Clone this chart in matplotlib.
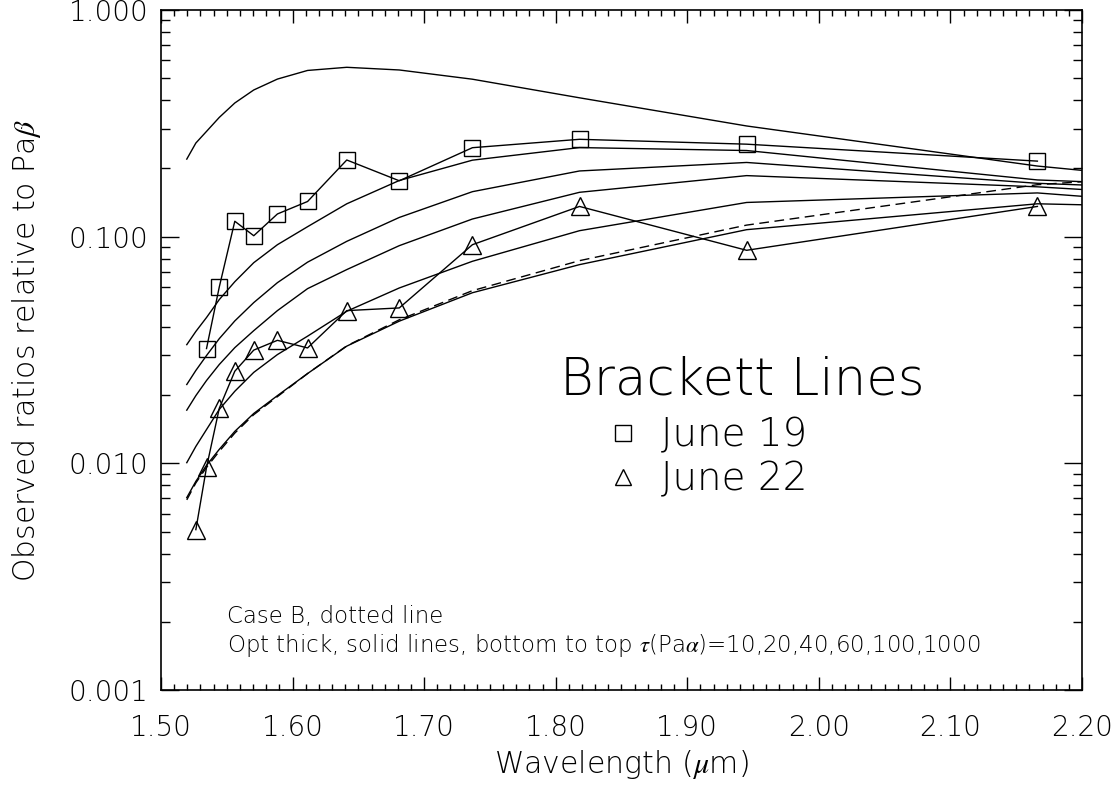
import matplotlib
matplotlib.use("Agg")
import matplotlib.pyplot as plt
from matplotlib.lines import Line2D
from matplotlib.ticker import FixedLocator, LogLocator, MultipleLocator, NullFormatter

plt.rcParams['font.family'] = ['DejaVu Sans']
plt.rcParams['font.weight'] = 'light'
plt.rcParams['axes.labelweight'] = 'light'
plt.rcParams['mathtext.fontset'] = 'stix'

# Brackett line wavelengths (micron): Br20 ... Br10, Br-epsilon, Br-delta, Br-gamma, Br-beta
wavelength = [1.5196, 1.5265, 1.5346, 1.5443, 1.5561, 1.5705, 1.5885, 1.6114,
              1.6412, 1.6811, 1.7367, 1.8181, 1.9451, 2.1661, 2.6252]

# observed line ratios relative to Pa-beta
june19_wl = wavelength[2:14]
june19 = [0.0321, 0.060, 0.117, 0.101, 0.126, 0.143, 0.218, 0.1765,
          0.247, 0.269, 0.256, 0.2155]
june22_wl = wavelength[1:14]
june22 = [0.0051, 0.0096, 0.0175, 0.0255, 0.0316, 0.0349, 0.0323, 0.0472,
          0.0485, 0.0922, 0.136, 0.0871, 0.136]

# optically thick models, tau(Pa-alpha) = 10, 20, 40, 60, 100, 1000
tau10 = [0.00706, 0.00833, 0.0098, 0.01153, 0.01384, 0.0166, 0.0199, 0.0249,
         0.0329, 0.0424, 0.0566, 0.0753, 0.1074, 0.1397, 0.122]
tau20 = [0.01007, 0.01188, 0.0141, 0.0173, 0.0208, 0.0252, 0.0302, 0.0364,
         0.0469, 0.0594, 0.0779, 0.1063, 0.1416, 0.156, 0.098]
tau40 = [0.01717, 0.0199, 0.0232, 0.0273, 0.0324, 0.0385, 0.0472, 0.0590,
         0.0716, 0.0913, 0.1197, 0.157, 0.186, 0.166, 0.115]
tau60 = [0.02228, 0.0257, 0.0299, 0.0355, 0.0425, 0.0512, 0.0627, 0.0772,
         0.0954, 0.1216, 0.158, 0.195, 0.2126, 0.172, 0.137]
tau100 = [0.0334, 0.0382, 0.0440, 0.0528, 0.0633, 0.0768, 0.0922, 0.1107,
          0.1397, 0.177, 0.2176, 0.2473, 0.240, 0.178, 0.141]
tau1000 = [0.220, 0.259, 0.2915, 0.336, 0.389, 0.444, 0.496, 0.5414,
           0.559, 0.544, 0.4953, 0.410, 0.308, 0.205, 0.113]
# case B recombination
case_b = [0.0069, 0.0082, 0.0096, 0.0113, 0.0136, 0.0164, 0.0197, 0.0249,
          0.0330, 0.0430, 0.0578, 0.0784, 0.1125, 0.1696, 0.255]

x_ticks = [1.50, 1.60, 1.70, 1.80, 1.90, 2.00, 2.10, 2.20]
y_ticks = [0.001, 0.010, 0.100, 1.000]

fig = plt.figure(figsize=(11.18, 7.85), dpi=100)
fig.patch.set_facecolor('white')
ax = fig.add_axes([0.1440, 0.1210, 0.8238, 0.8662])

lw = 1.0
for model in [tau10, tau20, tau40, tau60, tau100, tau1000]:
    ax.plot(wavelength, model, color='black', lw=lw)
ax.plot(wavelength, case_b, color='black', lw=lw, dashes=(7, 4))

ax.plot(june19_wl, june19, color='black', lw=lw, marker='s', ms=11.5,
        mfc='none', mec='black', mew=1.0)
ax.plot(june22_wl, june22, color='black', lw=lw, marker='^', ms=13,
        mfc='none', mec='black', mew=1.0)

ax.set_yscale('log')
ax.set_xlim(1.5, 2.2)
ax.set_ylim(0.001, 1.0)

ax.xaxis.set_major_locator(FixedLocator(x_ticks))
ax.xaxis.set_minor_locator(MultipleLocator(0.01))
ax.set_xticklabels(['%.2f' % v for v in x_ticks])
ax.yaxis.set_major_locator(FixedLocator(y_ticks))
ax.yaxis.set_minor_locator(LogLocator(base=10, subs=range(2, 10)))
ax.yaxis.set_minor_formatter(NullFormatter())
ax.set_yticklabels(['%.3f' % v for v in y_ticks])

ax.tick_params(which='both', direction='in', top=True, right=True,
               width=1.0, color='black')
ax.tick_params(axis='x', which='major', length=9.5, pad=17, labelsize=20)
ax.tick_params(axis='x', which='minor', length=4.5)
ax.tick_params(axis='y', which='major', length=13, pad=9, labelsize=20)
ax.tick_params(axis='y', which='minor', length=6.5)
for side in ax.spines.values():
    side.set_linewidth(1.2)

ax.set_xlabel(r'Wavelength ($\mu$m)', fontsize=21.5)
ax.xaxis.set_label_coords(0.5, -0.086)
ax.set_ylabel(r'Observed ratios relative to Pa$\beta$', fontsize=21.5)
ax.yaxis.set_label_coords(-0.128, 0.5)

ax.text(0.433, 0.434, 'Brackett Lines', transform=ax.transAxes,
        fontsize=37, ha='left', va='baseline')
handles = [Line2D([], [], ls='none', marker='s', ms=11, mfc='none',
                  mec='black', mew=1.0),
           Line2D([], [], ls='none', marker='^', ms=12, mfc='none',
                  mec='black', mew=1.0)]
ax.legend(handles, ['June 19', 'June 22'], loc='upper left',
          bbox_to_anchor=(0.48, 0.402), frameon=False, fontsize=28,
          handlelength=1.0, handletextpad=0.5, labelspacing=0.15,
          borderpad=0, borderaxespad=0)

ax.text(0.0717, 0.0985, 'Case B, dotted line', transform=ax.transAxes,
        fontsize=16.5, ha='left', va='baseline')
ax.text(0.0717, 0.0559,
        r'Opt thick, solid lines, bottom to top $\tau$(Pa$\alpha$)=10,20,40,60,100,1000',
        transform=ax.transAxes, fontsize=16.5, ha='left', va='baseline')

fig.savefig('out.png', dpi=100, facecolor='white')
